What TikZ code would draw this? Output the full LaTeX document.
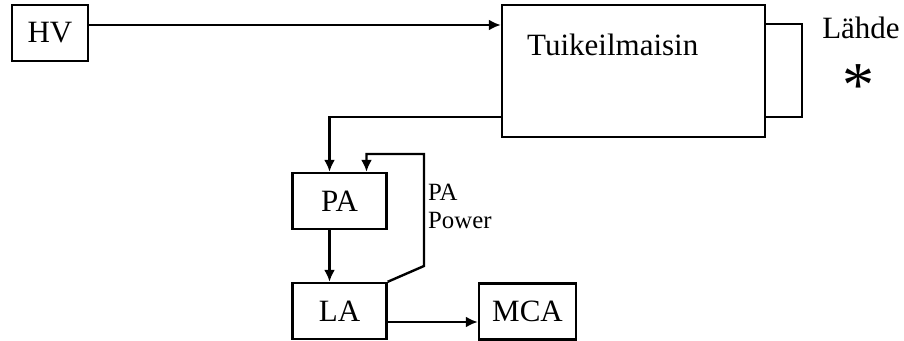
\documentclass[tikz,border=0pt]{standalone}
\usepackage{fontspec}
\setmainfont{Liberation Serif}
\usetikzlibrary{arrows.meta}

\begin{document}
\begin{tikzpicture}[x=0.5pt,y=-0.5pt,line width=1.2pt,>={Latex[length=6pt,width=5.5pt]},
  blk/.style={draw,inner sep=0pt,minimum height=28pt,font=\fontsize{15.5}{18}\selectfont},
  txt/.style={inner sep=0pt,font=\fontsize{15.5}{18}\selectfont}]
\useasboundingbox (0,0) rectangle (904,341);
\foreach \nm/\cx/\cy/\w/\lab in {hv/50/33/38pt/HV, pa/339.5/201/47pt/PA, la/339.5/311/47pt/LA, mca/527.5/311.5/48.5pt/MCA}
  \node[blk,minimum width=\w] (\nm) at (\cx,\cy) {\lab};
\node[blk,minimum width=131.5pt,minimum height=66pt] (det) at (633.5,71) {};
\node[txt,anchor=west] (dettxt) at (526,45) {Tuikeilmaisin};
\node[txt] (src) at (861,28) {Lähde};
\node[inner sep=0pt,text height=10pt,text depth=0pt,font=\fontsize{32}{32}\selectfont] (star) at (858,73) {\raisebox{-12pt}{*}};
\node[txt,anchor=north west,align=left,font=\fontsize{12.4}{14}\selectfont] (pwr) at (427,183) {PA\\Power};
% signal path
\coordinate (hvout) at ([yshift=4pt]hv.east);
\draw[->] (hvout) -- (hvout -| det.west);
\coordinate (detout) at (det.west |- 0,117);
\draw[->] (detout) -| ([xshift=-5pt]pa.north);
\draw[->] ([xshift=-5pt]pa.south) -- ([xshift=-5pt]la.north);
\coordinate (laout) at ([yshift=-5.5pt]la.east);
\draw[->] (laout) -- (laout -| mca.west);
% source loop
\coordinate (srcup) at (802,24);
\coordinate (srcdn) at (802,117);
\draw (det.east |- srcup) -- (srcup) -- (srcdn) -- (det.east |- srcdn);
% PA power
\coordinate (pwrlo) at (424,266);
\coordinate (pwrhi) at (424,154);
\draw[->] (la.north east) -- (pwrlo) -- (pwrhi) -| ([xshift=13.5pt]pa.north);
\end{tikzpicture}
\end{document}
